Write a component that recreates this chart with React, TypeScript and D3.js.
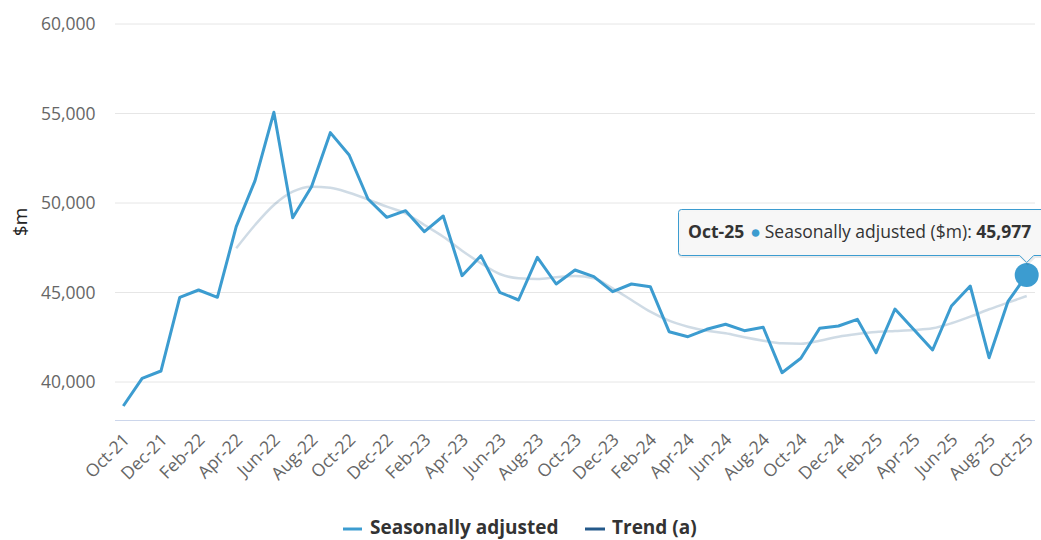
import React from 'react';
import * as d3 from 'd3';

const months: string[] = [
  'Oct-21', 'Nov-21', 'Dec-21',
  'Jan-22', 'Feb-22', 'Mar-22', 'Apr-22', 'May-22', 'Jun-22', 'Jul-22', 'Aug-22', 'Sep-22', 'Oct-22', 'Nov-22', 'Dec-22',
  'Jan-23', 'Feb-23', 'Mar-23', 'Apr-23', 'May-23', 'Jun-23', 'Jul-23', 'Aug-23', 'Sep-23', 'Oct-23', 'Nov-23', 'Dec-23',
  'Jan-24', 'Feb-24', 'Mar-24', 'Apr-24', 'May-24', 'Jun-24', 'Jul-24', 'Aug-24', 'Sep-24', 'Oct-24', 'Nov-24', 'Dec-24',
  'Jan-25', 'Feb-25', 'Mar-25', 'Apr-25', 'May-25', 'Jun-25', 'Jul-25', 'Aug-25', 'Sep-25', 'Oct-25',
];

// seasonally adjusted, $m
const seasonal: number[] = [
  38659, 40207, 40614,
  44732, 45140, 44732, 48677, 51247, 55066, 49180, 50911, 53930, 52682, 50224, 49200,
  49571, 48398, 49274, 45939, 47057, 45012, 44581, 46967, 45475, 46257, 45883, 45045,
  45475, 45324, 42810, 42531, 42944, 43224, 42866, 43056, 40520, 41324, 43000, 43129,
  43503, 41637, 44078, 42933, 41788, 44246, 45363, 41358, 44487, 45977,
];

// trend starts at Apr-22
const trendStart = 'Apr-22';
const trend: number[] = [
  47470, 48771, 49889, 50632, 50911, 50855, 50576, 50206, 49794,
  49425, 48771, 48118, 47336, 46632, 46034, 45793, 45754, 45849, 45922, 45793, 45235,
  44581, 43928, 43425, 43090, 42866, 42720, 42497, 42308, 42162, 42140, 42308, 42531,
  42682, 42794, 42849, 42905, 43000, 43279, 43648, 44062, 44431, 44805,
];

const yTicks: number[] = [40000, 45000, 50000, 55000, 60000];
const xLabels: string[] = months.filter((_, i) => i % 2 === 0);

const BLUE = '#3c9cd0';
const NAVY = '#24598a';
const FONT = '"Open Sans", sans-serif';

const App: React.FC = () => {
  const width = 1041;
  const height = 540;

  const x = d3.scalePoint<string>().domain(months).range([123.3, 1026.7]);
  const y = d3.scaleLinear().domain([40000, 60000]).range([382, 24]);
  const axisY = 420.5;
  const plotLeft = 115;
  const plotRight = 1035;

  const fmt = d3.format(',');

  const saLine = d3.line<number>()
    .x((_, i) => x(months[i]) as number)
    .y(d => y(d));

  const t0 = months.indexOf(trendStart);
  const trendLine = d3.line<number>()
    .x((_, i) => x(months[t0 + i]) as number)
    .y(d => y(d))
    .curve(d3.curveMonotoneX);

  const lastIdx = months.length - 1;
  const hx = x(months[lastIdx]) as number;
  const hy = y(seasonal[lastIdx]);

  // tooltip box
  const tipL = 678.5, tipT = 209.5, tipR = 1046, tipB = 255.5;
  const tipPath = `M ${tipL + 3} ${tipT} L ${tipR} ${tipT} L ${tipR} ${tipB} L ${hx + 7} ${tipB} L ${hx} ${tipB + 7} L ${hx - 7} ${tipB} L ${tipL + 3} ${tipB} A 3 3 0 0 1 ${tipL} ${tipB - 3} L ${tipL} ${tipT + 3} A 3 3 0 0 1 ${tipL + 3} ${tipT} Z`;

  return (
    <div style={{ position: 'fixed', left: 0, top: 0 }}>
      <svg width={width} height={height} style={{ display: 'block', fontFamily: FONT }}>
        <rect width={width} height={height} fill="#fff" />

        {/* grid lines */}
        {yTicks.map(t => (
          <line key={t} x1={plotLeft} x2={plotRight} y1={y(t)} y2={y(t)} stroke="#e6e6e6" strokeWidth={1} />
        ))}

        {/* y tick labels */}
        {yTicks.map(t => (
          <text key={`yl-${t}`} x={95.5} y={y(t)} dy="0.35em" textAnchor="end" fontSize={17.5} fill="#666">
            {fmt(t)}
          </text>
        ))}

        <text transform="translate(27,222) rotate(-90)" textAnchor="middle" fontSize={19} fill="#222">$m</text>

        {/* x axis */}
        <line x1={plotLeft} x2={plotRight} y1={axisY} y2={axisY} stroke="#ccd6eb" strokeWidth={1} />
        {xLabels.map(m => (
          <text
            key={m}
            transform={`translate(${(x(m) as number) + 3},${axisY + 16}) rotate(-45)`}
            textAnchor="end"
            dy="0.35em"
            fontSize={17.5}
            fill="#666"
          >
            {m}
          </text>
        ))}

        {/* trend, dimmed */}
        <path d={trendLine(trend) || ''} fill="none" stroke={NAVY} strokeOpacity={0.22} strokeWidth={2.5} />

        {/* seasonally adjusted */}
        <path d={saLine(seasonal) || ''} fill="none" stroke={BLUE} strokeWidth={3} strokeLinejoin="round" />

        {/* hover marker */}
        <circle cx={hx} cy={hy} r={12} fill={BLUE} />

        {/* tooltip */}
        <path d={tipPath} transform="translate(1,1)" fill="none" stroke="#000" strokeOpacity={0.08} strokeWidth={3} />
        <path d={tipPath} fill="#f7f7f7" fillOpacity={0.95} stroke={BLUE} strokeWidth={1} />
        <text x={688} y={238} fontSize={17.5} fill="#333">
          <tspan fontWeight="bold">{months[lastIdx]}</tspan>
          <tspan fill={BLUE} dx={6}>●</tspan>
          <tspan dx={4}>Seasonally adjusted ($m): </tspan>
          <tspan fontWeight="bold">{fmt(seasonal[lastIdx])}</tspan>
        </text>

        {/* legend */}
        <line x1={343} x2={362} y1={529} y2={529} stroke={BLUE} strokeWidth={3} />
        <text x={370} y={534} fontSize={19} fontWeight="bold" fill="#333">Seasonally adjusted</text>
        <line x1={585} x2={605} y1={529} y2={529} stroke={NAVY} strokeWidth={3} />
        <text x={612} y={534} fontSize={19} fontWeight="bold" fill="#333">Trend (a)</text>
      </svg>
    </div>
  );
};

export default App;
